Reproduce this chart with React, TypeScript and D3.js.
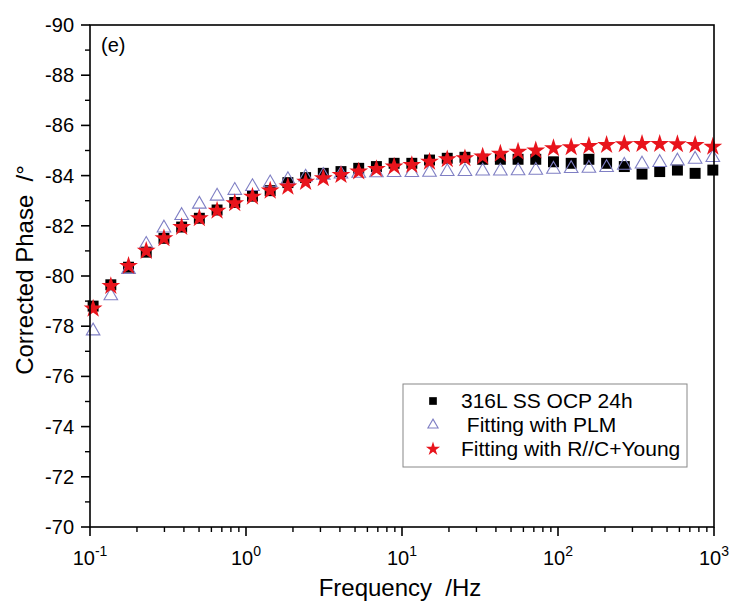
import React from "react";
import * as d3 from "d3";

// frequencies (Hz) of the measured points
const freq = [
  0.1047, 0.136, 0.1766, 0.2293, 0.2979, 0.3868, 0.5023, 0.6525, 0.8472,
  1.1, 1.429, 1.856, 2.41, 3.13, 4.064, 5.278, 6.855, 8.902,
  11.56, 15.01, 19.5, 25.32, 32.89, 42.71, 55.46, 72.03, 93.54,
  121.5, 157.8, 204.9, 266.1, 345.6, 448.7, 582.8, 756.8, 982.9,
];

// 316L SS OCP 24h (measured)
const ocp = [
  -78.8, -79.65, -80.35, -80.95, -81.5, -81.95, -82.3, -82.63, -82.93,
  -83.18, -83.4, -83.72, -83.92, -84.09, -84.16, -84.29, -84.36, -84.49,
  -84.49, -84.62, -84.69, -84.73, -84.65, -84.65, -84.65, -84.65, -84.55,
  -84.49, -84.65, -84.49, -84.36, -84.06, -84.16, -84.22, -84.09, -84.22,
];

// Fitting with PLM
const plm = [
  -77.85, -79.25, -80.3, -81.3, -81.95, -82.45, -82.9, -83.22, -83.45,
  -83.6, -83.75, -83.88, -83.98, -84.05, -84.1, -84.13, -84.15, -84.16,
  -84.16, -84.17, -84.2, -84.2, -84.22, -84.22, -84.23, -84.25, -84.29,
  -84.32, -84.33, -84.36, -84.45, -84.5, -84.56, -84.62, -84.69, -84.76,
];

// Fitting with R//C+Young
const young = [
  -78.7, -79.6, -80.4, -81.0, -81.5, -81.95, -82.3, -82.6, -82.9,
  -83.16, -83.4, -83.56, -83.75, -83.89, -84.02, -84.16, -84.26, -84.36,
  -84.42, -84.55, -84.65, -84.69, -84.76, -84.87, -84.95, -85.0, -85.09,
  -85.13, -85.18, -85.22, -85.25, -85.26, -85.26, -85.25, -85.22, -85.15,
];

const yTicks = [-90, -88, -86, -84, -82, -80, -78, -76, -74, -72, -70];
const xDecades = [-1, 0, 1, 2, 3];
const legendLabels = ["316L SS OCP 24h", " Fitting with PLM", "Fitting with R//C+Young"];

const FONT = "Liberation Sans, Arial, sans-serif";
const RED = "#e8141c";
const TRI = "#7f7fc4";

export default function App() {
  // plot box in page pixels
  const left = 90, right = 714, top = 25, bottom = 527;

  const x = d3.scaleLog().domain([0.1, 1000]).range([left, right]);
  const y = d3.scaleLinear().domain([-70, -90]).range([bottom, top]);

  const square = d3.symbol().type(d3.symbolSquare).size(120)()!;
  const triangle = d3.symbol().type(d3.symbolTriangle).size(80)()!;
  const star = d3.symbol().type(d3.symbolStar).size(110)()!;

  // minor ticks
  const yMinor = d3.range(-89, -70, 2);
  const xMinor: number[] = [];
  xDecades.slice(0, -1).forEach((k) => {
    for (let m = 2; m <= 9; m++) xMinor.push(m * Math.pow(10, k));
  });

  const legendRows = [
    { label: legendLabels[0], kind: "sq" },
    { label: legendLabels[1], kind: "tri" },
    { label: legendLabels[2], kind: "star" },
  ];

  const marker = (kind: string, size = 1) => {
    if (kind === "sq") return <path d={square} fill="#000" transform={`scale(${size})`} />;
    if (kind === "tri")
      return <path d={triangle} fill="none" stroke={TRI} strokeWidth={1.1 / size} transform={`scale(${size})`} />;
    return <path d={star} fill={RED} transform={`scale(${size})`} />;
  };

  return (
    <svg
      width={734}
      height={608}
      style={{ position: "absolute", left: 0, top: 0, background: "#fff" }}
      fontFamily={FONT}
    >
      <rect width={734} height={608} fill="#fff" />

      {/* data: squares, then triangles, then stars on top */}
      <g>
        {freq.map((f, i) => (
          <g key={"s" + i} transform={`translate(${x(f)},${y(ocp[i])})`}>
            {marker("sq")}
          </g>
        ))}
        {freq.map((f, i) => (
          <g key={"t" + i} transform={`translate(${x(f)},${y(plm[i]) + 1})`}>
            {marker("tri")}
          </g>
        ))}
        {freq.map((f, i) => (
          <g key={"r" + i} transform={`translate(${x(f)},${y(young[i])})`}>
            {marker("star")}
          </g>
        ))}
      </g>

      {/* frame */}
      <rect
        x={left}
        y={top}
        width={right - left}
        height={bottom - top}
        fill="none"
        stroke="#000"
        strokeWidth={1.6}
      />

      {/* y axis */}
      {yTicks.map((v) => (
        <g key={"yt" + v}>
          <line x1={left - 9} x2={left} y1={y(v)} y2={y(v)} stroke="#000" strokeWidth={1.6} />
          <text x={left - 16} y={y(v)} dy="0.35em" textAnchor="end" fontSize={20}>
            {v}
          </text>
        </g>
      ))}
      {yMinor.map((v) => (
        <line key={"ym" + v} x1={left - 5} x2={left} y1={y(v)} y2={y(v)} stroke="#000" strokeWidth={1.4} />
      ))}

      {/* x axis */}
      {xDecades.map((k) => (
        <g key={"xt" + k}>
          <line x1={x(Math.pow(10, k))} x2={x(Math.pow(10, k))} y1={bottom} y2={bottom + 9} stroke="#000" strokeWidth={1.6} />
          <text x={x(Math.pow(10, k))} y={bottom + 38} textAnchor="middle" fontSize={20}>
            10
            <tspan dy={-9} fontSize={14}>
              {k}
            </tspan>
          </text>
        </g>
      ))}
      {xMinor.map((v, i) => (
        <line key={"xm" + i} x1={x(v)} x2={x(v)} y1={bottom} y2={bottom + 5} stroke="#000" strokeWidth={1.4} />
      ))}

      {/* axis titles */}
      <text x={400} y={596} textAnchor="middle" fontSize={24} style={{ whiteSpace: "pre" }}>
        {"Frequency  /Hz"}
      </text>
      <text
        transform={`translate(33,270) rotate(-90)`}
        textAnchor="middle"
        fontSize={24}
        style={{ whiteSpace: "pre" }}
      >
        {"Corrected Phase  /\u00b0"}
      </text>

      {/* panel letter */}
      <text x={101} y={52} fontSize={20}>
        (e)
      </text>

      {/* legend */}
      <g transform="translate(403,384)">
        <rect width={284} height={83} fill="#fff" stroke="#888" strokeWidth={1} />
        {legendRows.map((r, i) => (
          <g key={"lg" + i} transform={`translate(0,${17 + i * 24})`}>
            <g transform="translate(30,0)">{marker(r.kind, r.kind === "sq" ? 0.7 : 0.75)}</g>
            <text x={58} y={0} dy="0.35em" fontSize={21} style={{ whiteSpace: "pre" }}>
              {r.label}
            </text>
          </g>
        ))}
      </g>
    </svg>
  );
}
